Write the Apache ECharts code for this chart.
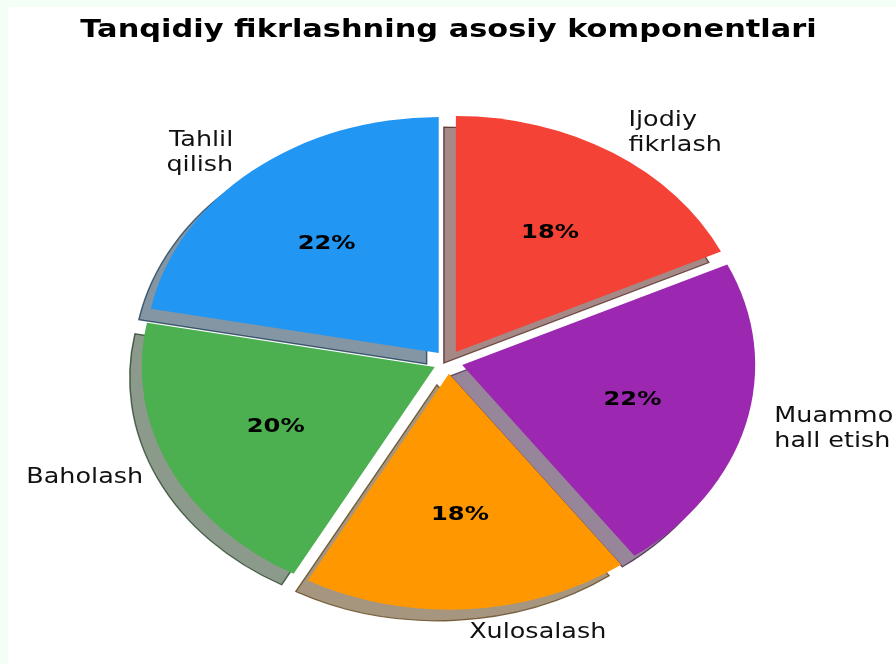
<!DOCTYPE html>
<html>
<head>
<meta charset="utf-8">
<script src="https://cdn.jsdelivr.net/npm/echarts@6/dist/echarts.min.js"></script>
<style>
  html, body { margin: 0; padding: 0; background: #f3fff6; }
  #chart { position: absolute; left: 8px; top: 7px; width: 888px; height: 657px; background: #fff; }
</style>
</head>
<body>
<div id="chart"></div>
<script>
// Pie of critical-thinking components. The source picture is stretched sideways,
// so the pie is an ellipse and the text is wide — drawn with a custom series.
const TITLE = "Tanqidiy fikrlashning asosiy komponentlari";
const labels = ["Tahlil\nqilish", "Baholash", "Xulosalash", "Muammo\nhall etish", "Ijodiy\nfikrlash"];
const shares = [22, 20, 18, 22, 18];
const colors = ["#2196F3", "#4CAF50", "#FF9800", "#9C27B0", "#F44336"];
const explode = [0.05, 0.05, 0.05, 0.05, 0.05];

// layout (px inside the chart box)
const PIE = { cx: 440, cy: 355, rx: 293, ry: 236, start: 90 };
const STRETCH = PIE.rx / PIE.ry;
const SHADOW = { dx: -12, dy: 11 };
const FONT = "DejaVu Sans";

const total = shares.reduce((a, b) => a + b, 0);
const deg = Math.PI / 180;

// matplotlib-style shadow: face * 0.3 at half alpha
function shade(hex, alpha) {
  const n = parseInt(hex.slice(1), 16);
  const r = Math.round(((n >> 16) & 255) * 0.3);
  const g = Math.round(((n >> 8) & 255) * 0.3);
  const b = Math.round((n & 255) * 0.3);
  return `rgba(${r},${g},${b},${alpha})`;
}

function renderItem(params, api) {
  const i = params.dataIndex;
  const v = api.value(0);
  const before = shares.slice(0, i).reduce((a, b) => a + b, 0);
  const a1 = PIE.start + (before / total) * 360;
  const a2 = a1 + (v / total) * 360;
  const mid = ((a1 + a2) / 2) * deg;
  const cos = Math.cos(mid), sin = Math.sin(mid);
  const ox = PIE.cx + explode[i] * PIE.rx * cos;
  const oy = PIE.cy - explode[i] * PIE.ry * sin;
  const wedge = { cx: 0, cy: 0, r0: 0, r: PIE.ry, startAngle: -a2 * deg, endAngle: -a1 * deg, clockwise: true };
  return {
    type: "group",
    children: [
      {
        type: "sector", z2: 0, x: ox + SHADOW.dx, y: oy + SHADOW.dy, scaleX: STRETCH,
        shape: wedge,
        style: { fill: shade(colors[i], 0.5), stroke: shade(colors[i], 0.7), lineWidth: 1.2, strokeNoScale: true },
      },
      {
        type: "sector", z2: 5, x: ox, y: oy, scaleX: STRETCH,
        shape: wedge,
        style: { fill: colors[i] },
      },
      {
        type: "text", z2: 10,
        x: ox + 0.6 * PIE.rx * cos, y: oy - 0.6 * PIE.ry * sin, scaleX: STRETCH,
        style: {
          text: Math.round((v / total) * 100) + "%",
          fontFamily: FONT, fontSize: 19.5, fontWeight: "bold", fill: "#000",
          align: "center", verticalAlign: "middle",
        },
      },
      {
        type: "text", z2: 10,
        x: ox + 1.1 * PIE.rx * cos, y: oy - 1.1 * PIE.ry * sin, scaleX: STRETCH,
        style: {
          text: labels[i],
          fontFamily: FONT, fontSize: 20.5, lineHeight: 25, fill: "#111",
          align: cos > 0 ? "left" : "right", verticalAlign: "middle",
        },
      },
    ],
  };
}

const chart = echarts.init(document.getElementById("chart"));
chart.setOption({
  animation: false,
  backgroundColor: "#fff",
  graphic: [{
    type: "text", x: 440.5, y: 24, scaleX: STRETCH,
    style: {
      text: TITLE, fontFamily: FONT, fontSize: 24.5, fontWeight: "bold", fill: "#000",
      align: "center", verticalAlign: "middle",
    },
  }],
  series: [{
    type: "custom",
    coordinateSystem: "none",
    silent: true,
    renderItem,
    data: shares.map((v, i) => ({ value: v, name: labels[i] })),
  }],
});
</script>
</body>
</html>
